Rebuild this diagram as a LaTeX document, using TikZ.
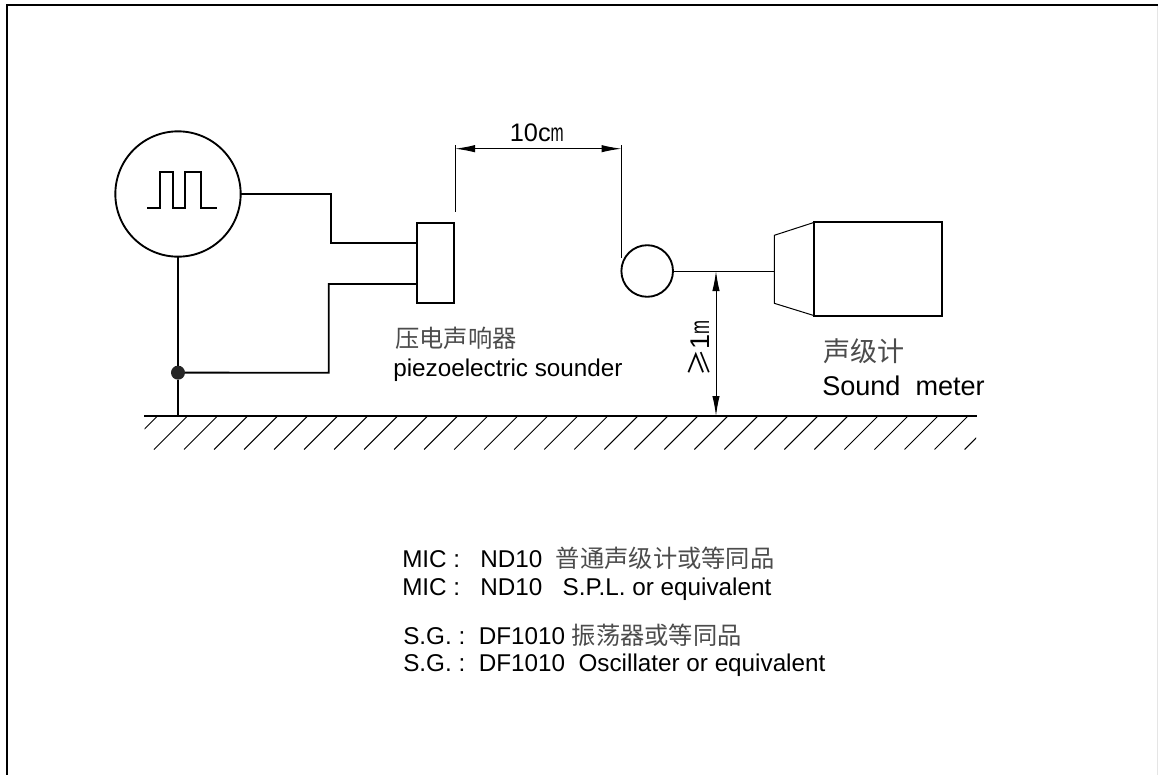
\documentclass[tikz,border=0pt]{standalone}
\usepackage{fontspec}
\setmainfont{Liberation Sans}
\newfontfamily\cjk{Noto Sans CJK SC}
\usetikzlibrary{arrows.meta}
\definecolor{cjkgray}{gray}{0.3}
\newcommand{\zh}[1]{{\cjk\color{cjkgray}#1}}
\tikzstyle{wire} = [line width=1.4pt]
\tikzstyle{thin line} = [line width=.75pt]
\tikzstyle{dim} = [line width=.75pt,{Latex[length=15pt,width=5.5pt]}-{Latex[length=15pt,width=5.5pt]}]
\tikzstyle{gencircle} = [circle, draw=black, line width=1.4pt, minimum size=94pt, inner sep=0pt, outer sep=0pt]
\tikzstyle{miccircle} = [circle, draw=black, line width=1.4pt, minimum size=38.7pt, inner sep=0pt, outer sep=0pt]
\tikzstyle{sounderbox} = [rectangle, draw=black, line width=1.4pt, minimum width=27.7pt, minimum height=60.5pt, inner sep=0pt, outer sep=0pt]
\tikzstyle{meterbox} = [rectangle, draw=black, line width=1.4pt, minimum width=95.6pt, minimum height=70pt, inner sep=0pt, outer sep=0pt]
\tikzstyle{junction} = [circle, fill=black!85, minimum size=10.5pt, inner sep=0pt, outer sep=0pt]
\tikzstyle{label} = [anchor=base west, inner sep=0pt, font=\fontsize{18.2}{20}\selectfont]
\tikzstyle{biglabel} = [anchor=base west, inner sep=0pt, font=\fontsize{20.3}{22}\selectfont]

\begin{document}
\begin{tikzpicture}[x=.75pt,y=-.75pt,node distance=150pt]
  \useasboundingbox (0,0) rectangle (1158,775);
  % frame
  \draw [line width=1.5pt] (6.5,775) -- (6.5,4.5) -- (1158,4.5);
  \draw [black!10, line width=.7pt] (1157.5,6) -- (1157.5,775);

  \node (gen) [gencircle] at (178,194) {};
  \node (sounder) [sounderbox, right of=gen, xshift=43.1pt, yshift=-51.75pt] {};
  \node (mic) [miccircle, right of=sounder, xshift=8.8pt, yshift=-6pt] {};
  \node (meter) [meterbox, right of=mic, xshift=23.1pt, yshift=1.5pt] {};
  \node (junc) [junction, below of=gen, yshift=16pt] {};

  % ground
  \coordinate (gl) at (144,416);
  \coordinate (gr) at (976.5,416);
  \draw [wire] (gl) -- (gr);
  \begin{scope}
    \clip (144.5,416) rectangle (976,450);
    \foreach \k in {-1,...,27}
      \draw [thin line] (154+30.02*\k,449.5) -- ++(33.5,-33.5);
  \end{scope}

  % wires
  \draw [wire] (gen) -- (junc);
  \draw [wire] (junc) -- (gen |- gl);
  \draw [wire] (gen.east) -- (330.7,194) |- (sounder.west |- 0,243.3);
  \draw [wire] (junc) -- (328.7,372.7) |- (sounder.west |- 0,284);
  \draw [wire] (147.3,208) -- ++(12.7,0) -- ++(0,-36.3) -- ++(12.7,0) -- ++(0,36.3) -- ++(12.3,0) -- ++(0,-36.3) -- ++(15.7,0) -- ++(0,36.3) -- ++(16,0);

  % meter
  \coordinate (hornt) at (774.3,235.3);
  \coordinate (hornb) at (774.3,303.3);
  \draw [thin line] (meter.north west) -- (hornt) -- (hornb) -- (meter.south west);
  \draw [thin line] (mic.east) -- (mic.east -| hornt);

  % dimensions
  \coordinate (dima) at (455,148.7);
  \coordinate (dimb) at (621.5,148.7);
  \draw [thin line] (455,145) -- (455,212);
  \draw [thin line] (621.5,145) -- (621.5,258);
  \draw [dim] (dima) -- (dimb);
  \coordinate (dimc) at (716,271);
  \draw [dim] (dimc) -- (dimc |- gl);

  % labels
  \node (dimlabel) [anchor=base west, inner sep=0pt, font=\fontsize{19}{20}\selectfont] at (509.6,141.7) {10c\scalebox{.62}[1]{m}};
  \node (highlabel) [biglabel, rotate=90] at (709,377) {\cjk ≥\rmfamily 1\scalebox{.62}[1]{m}};
  \node (sndzh) [label] at (395,347) {\zh{压电声响器}};
  \node (snden) [label] at (393,376.7) {piezoelectric sounder};
  \node (metzh) [biglabel] at (823,361) {\zh{声级计}};
  \node (meten) [biglabel] at (822,395) {Sound~~meter};
  \node (line1) [label] at (402,567) {MIC :~~~ND10~~\zh{普通声级计或等同品}};
  \node (line2) [label] at (402,595.7) {MIC :~~~ND10~~~S.P.L. or equivalent};
  \node (line3) [label] at (403,644) {S.G. :~~DF1010~\zh{振荡器或等同品}};
  \node (line4) [label] at (403,671.7) {S.G. :~~DF1010~~Oscillater or equivalent};
\end{tikzpicture}
\end{document}
